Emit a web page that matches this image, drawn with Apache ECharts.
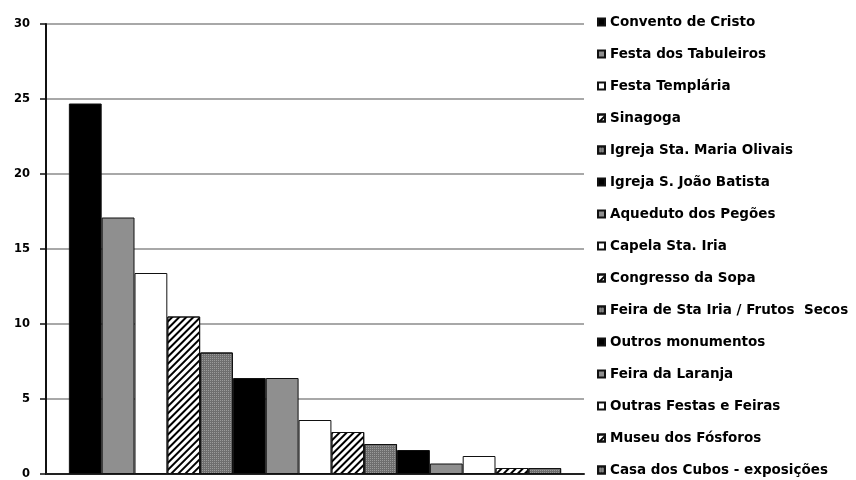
<!DOCTYPE html>
<html><head><meta charset="utf-8">
<script src="https://cdn.jsdelivr.net/npm/echarts@6/dist/echarts.min.js"></script>
<style>html,body{margin:0;padding:0;background:#fff}#c{width:856px;height:480px}</style>
</head><body><div id="c"></div>
<script>
const seriesNames = ["Convento de Cristo","Festa dos Tabuleiros","Festa Templária","Sinagoga","Igreja Sta. Maria Olivais","Igreja S. João Batista","Aqueduto dos Pegões","Capela Sta. Iria","Congresso da Sopa","Feira de Sta Iria / Frutos  Secos","Outros monumentos","Feira da Laranja","Outras Festas e Feiras","Museu dos Fósforos","Casa dos Cubos - exposições"];
const seriesValues = [24.7, 17.1, 13.4, 10.5, 8.1, 6.4, 6.4, 3.6, 2.8, 2.0, 1.6, 0.7, 1.2, 0.4, 0.4];
const yTicks = [0, 5, 10, 15, 20, 25, 30];

const styles = [
  {color:'#000000'},
  {color:'#8f8f8f'},
  {color:'#ffffff'},
  {color:'#ffffff', decal:{symbol:'rect', symbolSize:1, dashArrayX:[1,0], dashArrayY:[2,3], rotation:-Math.PI/4, color:'#000'}},
  {color:'#6e6e6e', decal:{symbol:'rect', symbolSize:1, dashArrayX:[1,1], dashArrayY:[1,1], rotation:0, color:'#9a9a9a'}}
];

const series = seriesNames.map((n,i)=>({
  name:n, type:'bar', data:[seriesValues[i]],
  barGap:'0%', barCategoryGap:'8.5%',
  itemStyle:Object.assign({borderColor:'#111', borderWidth:1}, styles[i%5]),
  emphasis:{disabled:true}
}));

const chart = echarts.init(document.getElementById('c'), null, {renderer:'canvas'});
chart.setOption({
  animation:false,
  backgroundColor:'#fff',
  grid:{left:46, right:272, top:24, bottom:3},
  xAxis:{type:'category', data:[''], axisLine:{lineStyle:{color:'#222', width:2}}, axisTick:{show:false}, axisLabel:{show:false}},
  yAxis:{type:'value', min:yTicks[0], max:yTicks[yTicks.length-1], interval:5,
    axisLine:{show:true, lineStyle:{color:'#111', width:2}},
    axisTick:{show:true, length:6, lineStyle:{color:'#111', width:1.5}},
    axisLabel:{color:'#000', fontWeight:'bold', fontSize:11.5, fontFamily:'DejaVu Sans', margin:16},
    splitLine:{lineStyle:{color:'#a8a8a8', width:2}}
  },
  legend:{orient:'vertical', left:597, top:15, padding:0, itemWidth:7, itemHeight:7, itemGap:18,
    icon:'rect',
    textStyle:{color:'#000', fontWeight:'bold', fontSize:13.5, fontFamily:'DejaVu Sans'},
    data:seriesNames},
  series:series
});
</script></body></html>
